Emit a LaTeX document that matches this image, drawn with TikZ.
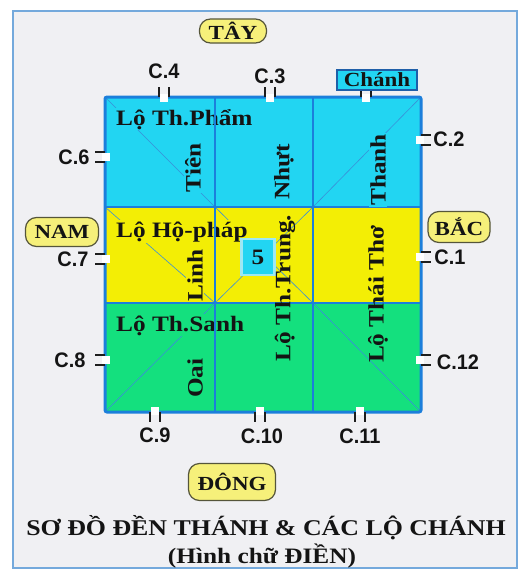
\documentclass[tikz,border=0pt]{standalone}
\usepackage{fontspec}
\setmainfont{Liberation Serif}[FakeStretch=1.15]
\newfontfamily\cfont{Liberation Sans}[FakeStretch=0.95]
\definecolor{framec}{HTML}{74A9DC}
\definecolor{bgc}{HTML}{F0F0F3}
\definecolor{cyanc}{HTML}{22D5F2}
\definecolor{yelc}{HTML}{F3EE05}
\definecolor{grnc}{HTML}{14E07E}
\definecolor{gridc}{HTML}{1C7FDB}
\definecolor{diagc}{HTML}{3A8FD8}
\definecolor{dirfill}{HTML}{F6F07A}
\definecolor{dirdraw}{HTML}{55553A}
\definecolor{chanhdraw}{HTML}{1F5FA8}
\definecolor{fivedraw}{HTML}{9DE8F4}
\definecolor{txtc}{HTML}{141414}
\definecolor{doorc}{HTML}{1E1E1E}
\begin{document}
\begin{tikzpicture}[x=1pt,y=-1pt,
  txt/.style={font=\fontsize{22}{24}\selectfont\bfseries, text=txtc, inner sep=1pt},
  vtxt/.style={txt, rotate=90},
  clab/.style={font=\cfont\fontsize{21}{22}\selectfont\bfseries, text=txtc, inner sep=0pt},
  dirbox/.style={font=\fontsize{20}{22}\selectfont\bfseries, text=txtc, fill=dirfill, draw=dirdraw, line width=1.2pt, rounded corners=11pt, inner xsep=4pt, inner ysep=1pt},
  gridline/.style={draw=gridc, line width=2.4pt},
  diag/.style={draw=diagc, line width=0.6pt},
  doorline/.style={draw=doorc, line width=2.6pt},
  door/.pic={
    \fill[white] (-4,-3) rectangle (4,5);
    \draw[doorline] (-5,0) -- (-5,-10);
    \draw[doorline] (5,0) -- (5,-10);
  }
]
\path[use as bounding box, fill=white] (0,0) rectangle (523,573);
\draw[draw=framec, line width=2pt, fill=bgc] (13,11) rectangle (517,568);

% cell fills
\fill[cyanc] (105,97) rectangle (421,207);
\fill[yelc] (105,207) rectangle (421,303);
\fill[grnc] (105,303) rectangle (421,412);

% diagonals
\draw[diag] (105,97) -- (215,207);
\draw[diag] (313,207) -- (421,97);
\draw[diag] (105,207) -- (215,303);
\draw[diag] (215,207) -- (313,303);
\draw[diag] (215,303) -- (313,207);
\draw[diag] (105,412) -- (215,303);
\draw[diag] (313,303) -- (421,412);

% horizontal labels
\node[txt, fill=cyanc, anchor=base west] (pham) at (115,125) {Lộ Th.Phẩm};
\node[txt, fill=yelc, anchor=base west] (hophap) at (115,237) {Lộ Hộ-pháp};
\node[txt, fill=grnc, anchor=base west] (sanh) at (115,331) {Lộ Th.Sanh};

% grid lines
\draw[gridline] (215,97) -- (215,412);
\draw[gridline] (313,97) -- (313,412);
\draw[gridline] (105,207) -- (421,207);
\draw[gridline] (105,303) -- (421,303);
\draw[gridline, line width=3pt, rounded corners=2pt] (105,97) rectangle (421,412);

% centre box
\node[txt, fill=cyanc, draw=fivedraw, line width=2.5pt, minimum width=33pt, minimum height=36pt, inner sep=0pt] (five) at (258,257) {5};

% vertical labels
\node[vtxt, fill=cyanc] (tien) at (193,168) {Tiên};
\node[vtxt, fill=cyanc] (nhut) at (284,172) {Nhựt};
\node[vtxt, fill=cyanc] (thanh) at (378,170) {Thanh};
\node[vtxt, fill=yelc] (linh) at (195,275) {Linh};
\node[vtxt] (trung) at (285,288) {Lộ Th.Trung.};
\node[vtxt] (thaitho) at (378,294) {Lộ Thái Thơ};
\node[vtxt, fill=grnc] (oai) at (195,378) {Oai};

% doors
\pic at (164,97) {door};
\pic at (270,97) {door};
\pic at (366,97) {door};
\pic[rotate=180] at (155,412) {door};
\pic[rotate=180] at (260,412) {door};
\pic[rotate=180] at (360,412) {door};
\pic[rotate=90] at (105,157) {door};
\pic[rotate=90] at (105,259) {door};
\pic[rotate=90] at (105,360) {door};
\pic[rotate=-90] at (421,140) {door};
\pic[rotate=-90] at (421,257) {door};
\pic[rotate=-90] at (421,360) {door};

% door labels
\node[clab] (c4) at (164,71) {C.4};
\node[clab] (c3) at (270,76) {C.3};
\node[txt, fill=cyanc, draw=chanhdraw, line width=1.2pt, minimum width=80pt, minimum height=20pt, inner sep=0pt, font=\fontsize{20}{22}\selectfont\bfseries] (chanh) at (377,80) {Chánh};
\node[clab] (c6) at (74,157) {C.6};
\node[clab] (c7) at (73,259) {C.7};
\node[clab] (c8) at (70,360) {C.8};
\node[clab] (c2) at (449,139) {C.2};
\node[clab] (c1) at (450,257) {C.1};
\node[clab] (c12) at (458,362) {C.12};
\node[clab] (c9) at (155,435) {C.9};
\node[clab] (c10) at (262,436) {C.10};
\node[clab] (c11) at (360,436) {C.11};

% directions
\node[dirbox, minimum width=67pt, minimum height=24pt] (tay) at (233,31) {TÂY};
\node[dirbox, minimum width=73pt, minimum height=29pt] (nam) at (62,232) {NAM};
\node[dirbox, minimum width=62pt, minimum height=31pt] (bac) at (459,227) {BẮC};
\node[dirbox, minimum width=87pt, minimum height=37pt] (dong) at (232,482) {ĐÔNG};

% title
\node[txt, font=\fontsize{22.5}{24}\selectfont\bfseries] (title) at (266,528) {SƠ ĐỒ ĐỀN THÁNH \& CÁC LỘ CHÁNH};
\node[txt] (subtitle) at (262,556) {(Hình chữ ĐIỀN)};
\end{tikzpicture}
\end{document}
